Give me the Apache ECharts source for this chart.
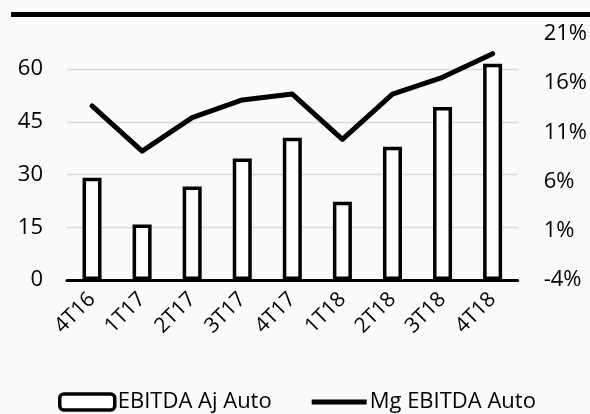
<!DOCTYPE html>
<html>
<head>
<meta charset="utf-8">
<script src="https://cdn.jsdelivr.net/npm/echarts@6/dist/echarts.min.js"></script>
<style>
html,body{margin:0;padding:0;background:#fafafa;}
#c{width:590px;height:414px;}
</style>
</head>
<body>
<div id="c"></div>
<script>
var categories = ['4T16','1T17','2T17','3T17','4T17','1T18','2T18','3T18','4T18'];
var ebitdaAjAuto = [29.1, 15.8, 26.6, 34.6, 40.5, 22.3, 37.9, 49.2, 61.5];
var mgEbitdaAuto = [13.7, 9.1, 12.5, 14.3, 14.9, 10.3, 14.9, 16.6, 19.0];
var leftTicks = [0, 15, 30, 45, 60];
var rightTicks = [-4, 1, 6, 11, 16, 21];

var FONT = '"Open Sans", "Noto Sans", sans-serif';
var chart = echarts.init(document.getElementById('c'), null, {renderer: 'canvas'});
chart.setOption({
  backgroundColor: '#fafafa',
  animation: false,
  textStyle: {fontFamily: FONT, color: '#000'},
  graphic: [{
    type: 'rect', shape: {x: 11, y: 12, width: 579, height: 5},
    style: {fill: '#000'}
  }],
  grid: {left: 67, right: 71.5, top: 34, bottom: 134},
  legend: {
    left: 58, top: 391, padding: 0,
    itemWidth: 55, itemHeight: 16, itemGap: 40,
    textStyle: {fontFamily: FONT, fontSize: 22, color: '#000', padding: [0, 0, 0, -2]},
    data: [
      {name: 'EBITDA Aj Auto', itemStyle: {color: '#fff', borderColor: '#000', borderWidth: 3.5}},
      {name: 'Mg EBITDA Auto', icon: 'path://M0,0 L55,0 L55,5 L0,5 Z', itemStyle: {color: '#000'}}
    ]
  },
  xAxis: {
    type: 'category', data: categories,
    axisLine: {lineStyle: {color: '#000', width: 3}},
    axisTick: {show: false},
    axisLabel: {rotate: 45, fontSize: 21, color: '#000', fontFamily: FONT, margin: 16, interval: 0}
  },
  yAxis: [{
    type: 'value', min: 0, max: 70, interval: 15,
    axisLine: {show: false}, axisTick: {show: false},
    axisLabel: {fontSize: 22, color: '#000', fontFamily: FONT, margin: 24,
      customValues: leftTicks},
    splitLine: {lineStyle: {color: '#d9d9d9', width: 1.3}, showMaxLine: false}
  }, {
    type: 'value', min: -4, max: 21,
    axisLine: {show: false}, axisTick: {show: false},
    axisLabel: {fontSize: 22, color: '#000', fontFamily: FONT, margin: 26,
      customValues: rightTicks, formatter: function (v) { return v + '%'; }},
    splitLine: {show: false}
  }],
  series: [{
    name: 'EBITDA Aj Auto', type: 'bar', data: ebitdaAjAuto, yAxisIndex: 0,
    barWidth: 19,
    itemStyle: {color: '#fff', borderColor: '#000', borderWidth: 3.5}
  }, {
    name: 'Mg EBITDA Auto', type: 'line', data: mgEbitdaAuto, yAxisIndex: 1,
    symbol: 'none', z: 5,
    lineStyle: {color: '#000', width: 5, cap: 'round', join: 'round'},
    itemStyle: {color: '#000'}
  }]
});
</script>
</body>
</html>
